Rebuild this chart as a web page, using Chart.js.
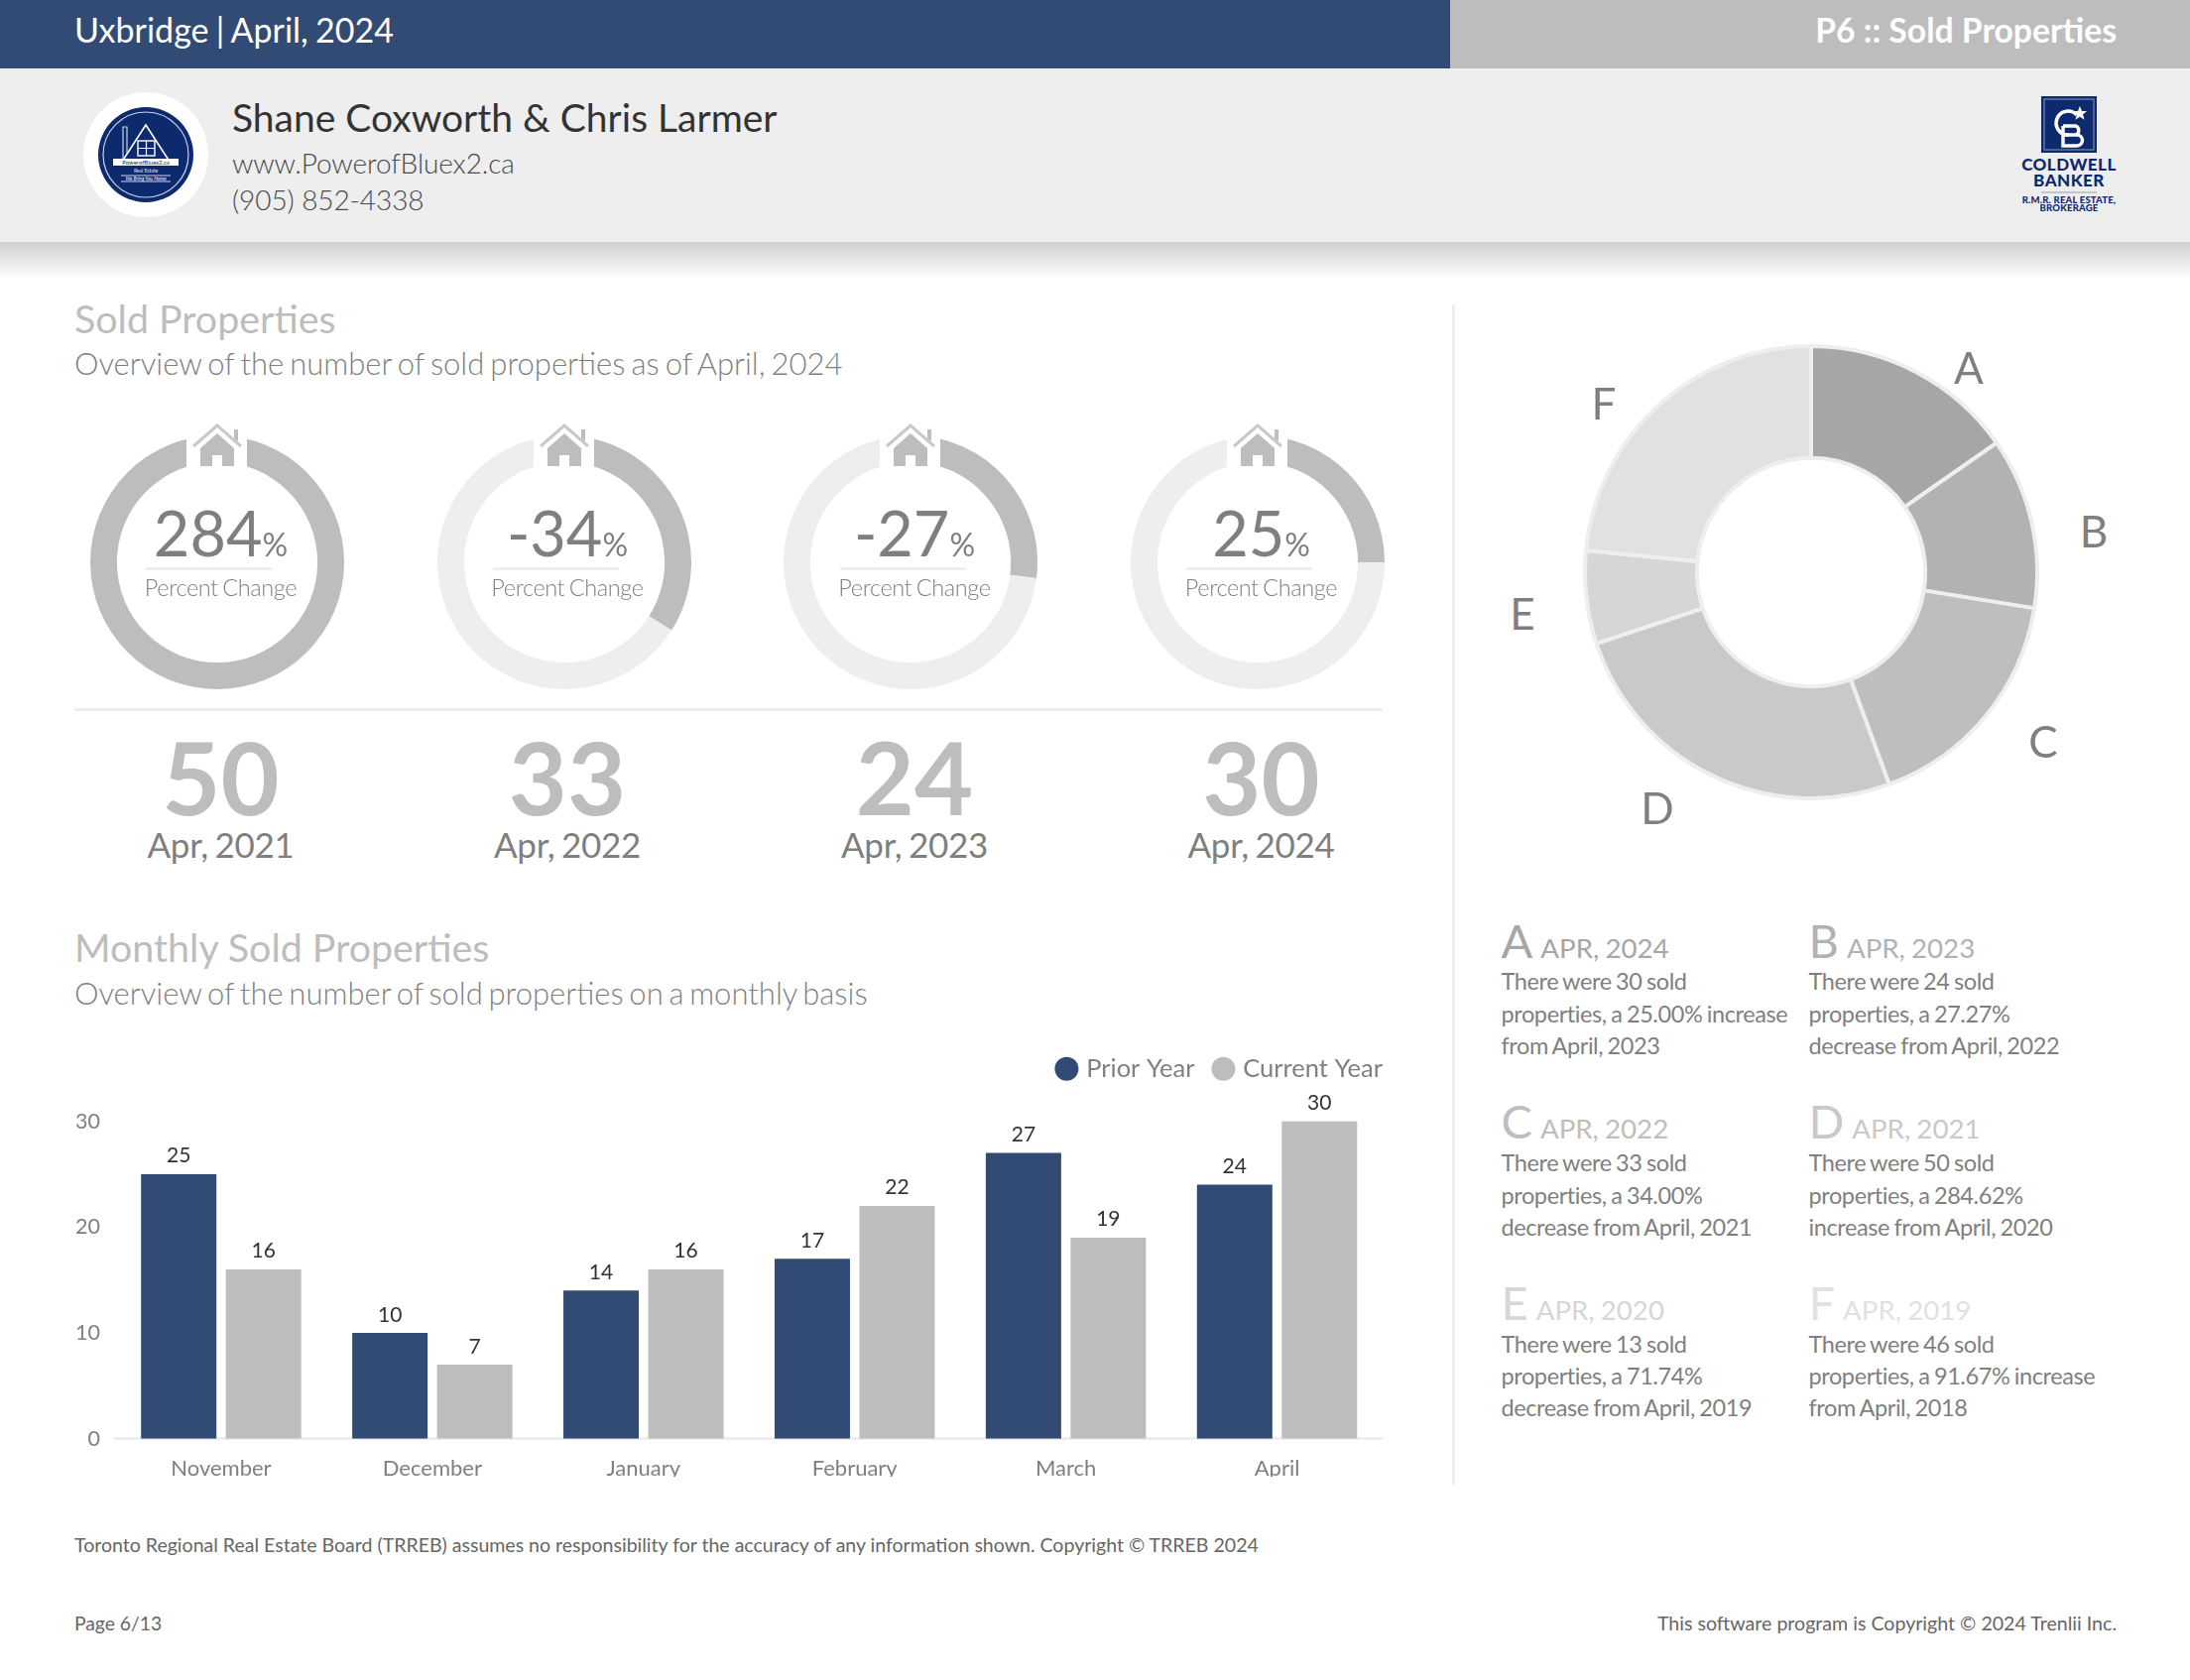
<!DOCTYPE html>
<html><head><meta charset="utf-8">
<script src="https://cdn.jsdelivr.net/npm/chart.js@4"></script>
<style>
html,body{margin:0;padding:0;background:#fff;width:2208px;height:1694px;overflow:hidden;font-family:Lato,sans-serif}
#page{position:relative;width:2208px;height:1694px;overflow:hidden}
.b{position:absolute}
.t{position:absolute;white-space:nowrap;line-height:0}
canvas{position:absolute;display:block}
svg{position:absolute;overflow:visible}
</style></head><body><div id="page">
<div class="b" style="left:0;top:0;width:1462px;height:69px;background:#324b75"></div>
<div class="b" style="left:1462px;top:0;width:746px;height:69px;background:#bdbdbd"></div>
<div class="b" style="left:0;top:69px;width:2208px;height:175px;background:#eeeeee"></div>
<div class="b" style="left:0;top:244px;width:2208px;height:37px;background:linear-gradient(#d0d0d0,#ffffff)"></div>
<div class="b" style="left:75px;top:714px;width:1319px;height:3px;background:#eeeeee"></div>
<div class="b" style="left:1464px;top:307px;width:3px;height:1190px;background:#eeeeee"></div>
<svg style="left:0;top:0" width="300" height="260">
<circle cx="147" cy="156" r="63" fill="#fff"/><circle cx="147" cy="156" r="48" fill="#0e2a6e"/>
<circle cx="147" cy="156" r="43" fill="none" stroke="#c9d2e6" stroke-width="1.2"/>
<path d="M147 126 L121 166 H173 Z" fill="none" stroke="#fff" stroke-width="1.6"/>
<path d="M124 160V128h4v26" fill="none" stroke="#c9d2e6" stroke-width="1.2"/>
<rect x="139" y="142" width="17" height="15" fill="none" stroke="#fff" stroke-width="1.4"/>
<path d="M147.500 142V157M139 149.500H156" stroke="#fff" stroke-width="1.2"/>
<rect x="114" y="160" width="66" height="7" fill="#fff"/>
<text x="147" y="166" text-anchor="middle" font-family="Lato" font-size="6" fill="#0e2a6e">PowerofBluex2.ca</text>
<text x="147" y="174" text-anchor="middle" font-family="Lato" font-size="5" fill="#dfe4f0">Real Estate</text>
<path d="M122 177H172M122 183H172" stroke="#c9d2e6" stroke-width="1"/>
<text x="147" y="182" text-anchor="middle" font-family="Lato" font-size="5" font-style="italic" fill="#fff">We Bring You Home</text>
</svg>
<svg style="left:2040px;top:90px" width="100" height="130">
<rect x="18" y="7" width="56" height="57" fill="#0e2a6e"/>
<rect x="21" y="10" width="50" height="51" fill="none" stroke="#8c9cc0" stroke-width="1"/>
<path d="M54 26 A12 12 0 1 0 46 46" fill="none" stroke="#fff" stroke-width="3.6"/>
<path d="M40 37 H53 A5 5 0 0 1 53 46 H42 M42 46 H54 A5.500 5.500 0 0 1 54 57 H40 V37" fill="none" stroke="#fff" stroke-width="3.4"/>
<path d="M57 17 l2 5 5 0 -4 3.400 1.600 5.400 -4.600 -3 -4.600 3 1.600 -5.400 -4 -3.400 5 0z" fill="#fff"/>
<path d="M18 104H74" stroke="#8c9cc0" stroke-width="1"/>
</svg>
<canvas id="r0" width="256" height="256" style="left:90.5px;top:439px"></canvas>
<canvas id="r1" width="256" height="256" style="left:440.5px;top:439px"></canvas>
<canvas id="r2" width="256" height="256" style="left:789.5px;top:439px"></canvas>
<canvas id="r3" width="256" height="256" style="left:1139.5px;top:439px"></canvas>
<canvas id="pie" width="480" height="480" style="left:1585.5px;top:336.5px"></canvas>
<canvas id="bars" width="1334" height="436" style="left:60px;top:1053px"></canvas>
</div>
<script>
const ringCenters=[218.5,568.5,917.5,1267.5];
const blockCenters=[222.5,572,922,1271.5];
const changeLabels=['284','-34','-27','25'];
const ringFilled=[100,34,27,25];
const soldCounts=['50','33','24','30'];
const soldPeriods=['Apr, 2021','Apr, 2022','Apr, 2023','Apr, 2024'];
const sliceLetters=['A','B','C','D','E','F'];
const sliceValues=[30,24,33,50,13,46];
const sliceColors=['#a6a6a6','#b2b2b2','#bebebe','#c9c9c9','#d6d6d6','#e1e1e1'];
const slicePeriods=['APR, 2024','APR, 2023','APR, 2022','APR, 2021','APR, 2020','APR, 2019'];
const sliceNotes=[
['There were 30 sold','properties, a 25.00% increase','from April, 2023'],
['There were 24 sold','properties, a 27.27%','decrease from April, 2022'],
['There were 33 sold','properties, a 34.00%','decrease from April, 2021'],
['There were 50 sold','properties, a 284.62%','increase from April, 2020'],
['There were 13 sold','properties, a 71.74%','decrease from April, 2019'],
['There were 46 sold','properties, a 91.67% increase','from April, 2018']];
const months=['November','December','January','February','March','April'];
const priorYear=[25,10,14,17,27,24];
const currentYear=[16,7,16,22,19,30];
const yTicks=[0,10,20,30];

const page=document.getElementById('page');
function T(html,x,base,size,color,o={}){
  const e=document.createElement('div');e.className='t';e.innerHTML=html;
  e.style.top=(base-0.387*size)+'px';e.style.fontSize=size+'px';e.style.color=color;
  e.style.fontWeight=o.w||400;
  if(o.align==='c'){e.style.left=x+'px';e.style.transform='translateX(-50%)';}
  else if(o.align==='r'){e.style.right=(2208-x)+'px';}
  else e.style.left=x+'px';
  if(o.ls)e.style.letterSpacing=o.ls+'px';
  if(o.ws)e.style.wordSpacing=o.ws+'px';
  page.appendChild(e);return e;
}
const G='#7f7f7f',L='#bdbdbd',N='#0e2a6e';
T('Uxbridge | April, 2024',75,42.7,34,'#fff',{ws:-1.4});
T('P6 :: Sold Properties',2134,43,33.7,'#fff',{align:'r',w:700});
T('Shane Coxworth &amp; Chris Larmer',234,133,39,'#333');
T('www.PowerofBluex2.ca',234,175,28,'#4a4a4a',{w:300,ls:-0.1});
T('(905) 852-4338',234,212,28,'#4a4a4a',{w:300,ls:-0.1});
T('COLDWELL',2086,173,17,N,{align:'c',w:900,ls:0.5});
T('BANKER',2086,189,17,N,{align:'c',w:900,ls:0.5});
T('R.M.R. REAL ESTATE,',2086,206,9.5,N,{align:'c',w:900,ls:0.2});
T('BROKERAGE',2086,214,9.5,N,{align:'c',w:900,ls:0.2});
T('Sold Properties',75,336.4,39.4,L);
T('Overview of the number of sold properties as of April, 2024',75,378,31,G,{w:300,ws:-2.4});
T('Monthly Sold Properties',75,970.4,39.4,L);
T('Overview of the number of sold properties on a monthly basis',75,1013,31,G,{w:300,ws:-2.7});

ringCenters.forEach((cx,i)=>{
  const c=blockCenters[i];
  T(changeLabels[i]+'<span style="font-size:32px">%</span>',c,561.4,63,G,{align:'c'});
  const u=document.createElement('div');u.className='b';
  u.style.cssText=`left:${c-75.5}px;top:572px;width:127px;height:3px;background:#eeeeee`;page.appendChild(u);
  T('Percent Change',c,601,23.5,G,{align:'c',w:300,ls:-0.4,ws:-1.4});
  T(soldCounts[i],c,822.4,102,L,{align:'c',w:700});
  T(soldPeriods[i],c,864.7,35,G,{align:'c',ls:-0.3,ws:-2});
  new Chart(document.getElementById('r'+i),{type:'doughnut',
    data:{datasets:[{data:[ringFilled[i],100-ringFilled[i]],backgroundColor:['#bdbdbd','#eeeeee'],borderWidth:0}]},
    options:{responsive:false,animation:false,cutout:'79%',events:[],plugins:{legend:{display:false},tooltip:{enabled:false}}}});
  const m=document.createElement('div');m.className='b';
  m.style.cssText=`left:${cx-30.5}px;top:425px;width:61px;height:60px;background:#fff`;page.appendChild(m);
  const s=document.createElementNS('http://www.w3.org/2000/svg','svg');
  s.setAttribute('width','60');s.setAttribute('height','50');
  s.style.left=(cx-30)+'px';s.style.top='425px';
  s.innerHTML='<path d="M6 25 L30 4 L54 25" fill="none" stroke="#c9c9c9" stroke-width="3"/><path d="M47 17V8h4v12z" fill="#bdbdbd"/>'+
   '<path d="M13 27 L30 12 L47 27 V45 H35 V34 H25 V45 H13 Z" fill="#bdbdbd"/>';
  page.appendChild(s);
});

new Chart(document.getElementById('pie'),{type:'doughnut',
  data:{labels:sliceLetters,datasets:[{data:sliceValues,backgroundColor:sliceColors,borderColor:'#eeeeee',borderWidth:4,borderAlign:'center'}]},
  options:{responsive:false,animation:false,cutout:'50.5%',radius:228,events:[],layout:{padding:0},plugins:{legend:{display:false},tooltip:{enabled:false}}}});
[[1985,387],[2111,552],[2060,764],[1671,831],[1535,635],[1617,423]].forEach((p,i)=>T(sliceLetters[i],p[0],p[1],44,G,{align:'c'}));

const keyX=[1513.5,1823.5];
const keyBase=[966,1148.5,1331];
const keyLine=[[998.5,1031,1063],[1181.5,1214,1246],[1364,1396.5,1428.5]];
sliceLetters.forEach((l,i)=>{
  const x=keyX[i%2],r=Math.floor(i/2);
  T(`${l}<span style="font-size:27.7px;word-spacing:-1px;margin-left:8px">${slicePeriods[i]}</span>`,x,keyBase[r],47,sliceColors[i]);
  sliceNotes[i].forEach((n,j)=>T(n,x,keyLine[r][j],23.5,G,{ls:-0.4,ws:-1.2}));
});
T('Toronto Regional Real Estate Board (TRREB) assumes no responsibility for the accuracy of any information shown. Copyright © TRREB 2024',75,1566,19.55,'#666');
T('Page 6/13',75,1644.5,19.3,'#666');
T('This software program is Copyright © 2024 Trenlii Inc.',2134,1644.5,19.6,'#666',{align:'r'});

const legendSpace={id:'legendSpace',
  beforeInit(ch){const f=ch.legend.fit;ch.legend.fit=function(){f.call(this);this.height=77.6;};},
  afterLayout(ch){ch.legend.right+=22;ch.legend.left+=22;ch.legend.top-=10;}};
const valueLabels={id:'valueLabels',afterDatasetsDraw(ch){
  const x=ch.ctx;x.save();x.font='21px Lato';x.fillStyle='#333';x.textAlign='center';x.textBaseline='alphabetic';
  ch.data.datasets.forEach((d,i)=>ch.getDatasetMeta(i).data.forEach((el,j)=>x.fillText(d.data[j],el.x,el.y-11.5)));
  x.restore();}};
new Chart(document.getElementById('bars'),{type:'bar',
  data:{labels:months,datasets:[
    {label:'Prior Year',data:priorYear,backgroundColor:'#324b75'},
    {label:'Current Year',data:currentYear,backgroundColor:'#bdbdbd'}]},
  plugins:[legendSpace,valueLabels],
  options:{responsive:false,animation:false,events:[],
    datasets:{bar:{categoryPercentage:0.803,barPercentage:0.889}},
    plugins:{tooltip:{enabled:false},legend:{position:'top',align:'end',
      labels:{usePointStyle:true,pointStyle:'circle',boxWidth:14,boxHeight:17,padding:22,color:G,font:{family:'Lato',size:25.5,weight:'400'}}}},
    scales:{
      x:{grid:{display:false},border:{display:true,color:'#eeeeee',width:3},afterFit(s){s.height=38.3;},
        ticks:{color:G,padding:9,font:{family:'Lato',size:22},maxRotation:0}},
      y:{min:0,max:30,afterBuildTicks(s){s.ticks=yTicks.map(v=>({value:v}));},afterFit(s){s.width=56.5;},
        grid:{display:false},border:{display:false},ticks:{color:G,padding:7.5,font:{family:'Lato',size:21.5}}}
    }}});
</script></body></html>
